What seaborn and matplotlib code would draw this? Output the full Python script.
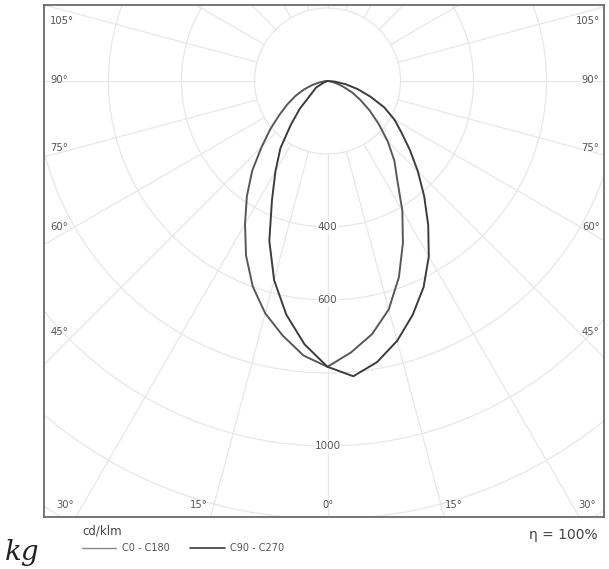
import numpy as np
import pandas as pd
import matplotlib
matplotlib.use("Agg")
import matplotlib.pyplot as plt
from matplotlib.lines import Line2D
from matplotlib.patches import Circle
import seaborn as sns

# Luminous intensity distribution, cd/klm, gamma measured from nadir
gamma = list(range(0, 95, 5))
c0 = [783, 746, 704, 648, 572, 489, 410, 334, 285, 233, 183, 141, 104, 75, 46, 26, 12, 4, 0]
c180 = [783, 755, 708, 659, 599, 528, 452, 385, 321, 255, 204, 160, 126, 97, 69, 44, 22, 8, 0]
c90 = [783, 812, 782, 737, 682, 623, 555, 481, 412, 350, 295, 248, 212, 172, 125, 85, 50, 20, 0]
c270 = [783, 724, 650, 565, 466, 360, 285, 225, 156, 107, 64, 46, 36, 15, 5, 1, 0, 0, 0]

plane_names = ["C0 - C180", "C90 - C270"]
ring_values = [400, 600, 1000]
angle_labels_side = ["105°", "90°", "75°", "60°", "45°"]
angle_labels_bottom = ["30°", "15°", "0°", "15°", "30°"]
efficiency = "η = 100%"
unit = "cd/klm"

sns.set_theme(style="white")
plt.rcParams["font.family"] = ["DejaVu Sans"]

ink = "#555555"
grid_c = "#e7e7e7"
palette = {"C0 - C180": "#585858", "C90 - C270": "#3c3c3c"}


def plane_frame(name, left, right):
    g = np.radians(gamma)
    rl = np.asarray(left, float)
    rr = np.asarray(right, float)
    xs = np.concatenate([-(rl * np.sin(g))[::-1], rr * np.sin(g)])
    ys = np.concatenate([-(rl * np.cos(g))[::-1], -rr * np.cos(g)])
    return pd.DataFrame({"x": xs, "y": ys, "plane": name, "step": np.arange(len(xs))})


df = pd.concat([
    plane_frame(plane_names[0], c180, c0),
    plane_frame(plane_names[1], c270, c90),
], ignore_index=True)

fig = plt.figure(figsize=(6.09, 5.69), dpi=100)
ax = fig.add_axes([44 / 609, 52 / 569, 560 / 609, 512 / 569])

# polar grid: rings every 200 cd/klm, spokes every 15 degrees
for r in range(200, 2200, 200):
    ax.add_patch(Circle((0, 0), r, fill=False, ec=grid_c, lw=0.9, zorder=0))
for a in range(0, 360, 15):
    t = np.radians(a)
    ax.plot([200 * np.sin(t), 2400 * np.sin(t)], [-200 * np.cos(t), -2400 * np.cos(t)],
            color=grid_c, lw=0.9, zorder=0)

sns.lineplot(data=df, x="x", y="y", hue="plane", units="plane", estimator=None,
             sort=False, palette=palette, lw=1.4, legend=False, ax=ax, zorder=3)
for ln in ax.get_lines()[-2:]:
    ln.set_solid_joinstyle("round")

for v in ring_values:
    ax.text(0, -v, str(v), ha="center", va="center", fontsize=7.5, color=ink,
            bbox=dict(facecolor="white", edgecolor="none", pad=0.6), zorder=2)

ax.set_xlim(-776.7, 757.5)
ax.set_ylim(-1194.5, 208.2)
ax.set_xlabel("")
ax.set_ylabel("")
ax.set_xticks([])
ax.set_yticks([])
for s in ax.spines.values():
    s.set_color("#6a6a6a")
    s.set_linewidth(1.3)

side_y = [0.969, 0.8535, 0.7207, 0.5664, 0.3613]
for lab, yy in zip(angle_labels_side, side_y):
    ax.text(0.011, yy, lab, transform=ax.transAxes, ha="left", va="center", fontsize=7.2, color=ink)
    ax.text(0.992, yy, lab, transform=ax.transAxes, ha="right", va="center", fontsize=7.2, color=ink)
bottom_x = [0.0375, 0.2768, 0.5071, 0.7321, 0.9696]
for lab, xx in zip(angle_labels_bottom, bottom_x):
    ax.text(xx, 0.0234, lab, transform=ax.transAxes, ha="center", va="center", fontsize=7.2, color=ink)

# footer: unit, legend and efficiency
fig.text(82 / 609, 1 - 531 / 569, unit, ha="left", va="center", fontsize=8.5, color="#444444")
fig.add_artist(Line2D([82 / 609, 116 / 609], [1 - 548 / 569] * 2, color="#8a8a8a", lw=1.0))
fig.text(122 / 609, 1 - 548 / 569, plane_names[0], ha="left", va="center", fontsize=7, color=ink)
fig.add_artist(Line2D([190 / 609, 225 / 609], [1 - 548 / 569] * 2, color="#3c3c3c", lw=1.2))
fig.text(230 / 609, 1 - 548 / 569, plane_names[1], ha="left", va="center", fontsize=7, color=ink)
fig.text(598 / 609, 1 - 535 / 569, efficiency, ha="right", va="center", fontsize=10, color="#444444")
fig.text(5 / 609, 1 - 560 / 569, "kg", ha="left", va="baseline", fontsize=20,
         family="DejaVu Serif", style="italic", color="#222222")

fig.savefig("out.png", dpi=100)
